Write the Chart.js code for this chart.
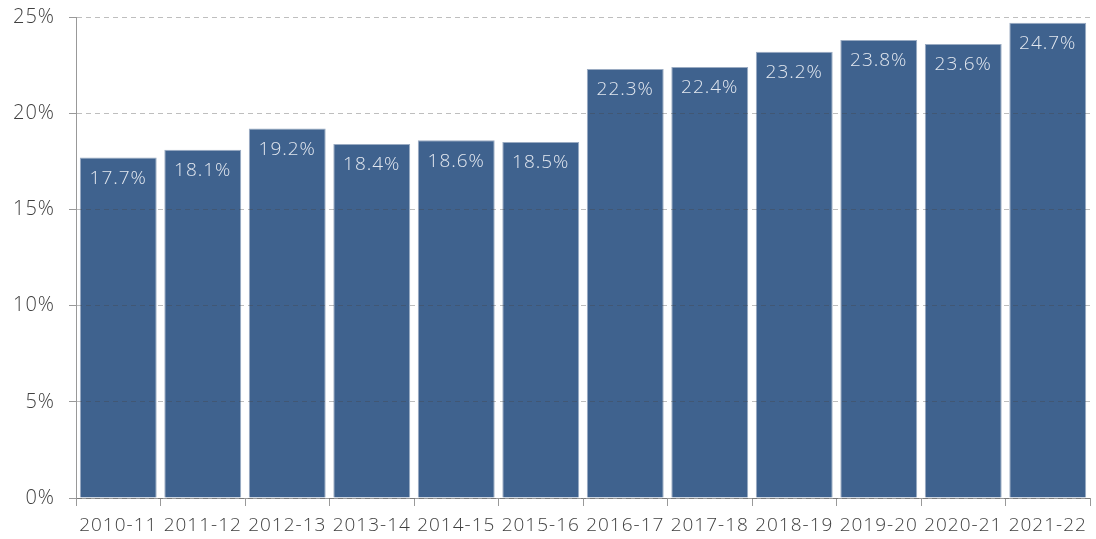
<!DOCTYPE html>
<html>
<head>
<meta charset="utf-8">
<script src="https://cdn.jsdelivr.net/npm/chart.js@4"></script>
<style>
  html, body { margin: 0; padding: 0; background: #fff; }
  #wrap { width: 1096px; height: 539px; }
</style>
</head>
<body>
<div id="wrap"><canvas id="myChart" width="1096" height="539"></canvas></div>
<script>
const years = ["2010-11", "2011-12", "2012-13", "2013-14", "2014-15", "2015-16",
  "2016-17", "2017-18", "2018-19", "2019-20", "2020-21", "2021-22"];
const shares = [17.7, 18.1, 19.2, 18.4, 18.6, 18.5, 22.3, 22.4, 23.2, 23.8, 23.6, 24.7];
const yTicks = [0, 5, 10, 15, 20, 25];

const fontFamily = "'Open Sans', sans-serif";

// writes the value inside the top of each bar
const barLabels = {
  id: "barLabels",
  afterDatasetsDraw(chart) {
    const { ctx } = chart;
    const meta = chart.getDatasetMeta(0);
    ctx.save();
    ctx.letterSpacing = "1px";
    ctx.font = `300 19px ${fontFamily}`;
    ctx.fillStyle = "#e2e7ef";
    ctx.textAlign = "center";
    ctx.textBaseline = "middle";
    meta.data.forEach((bar, i) => {
      ctx.fillText(shares[i].toFixed(1) + "%", bar.x, bar.y + 21);
    });
    ctx.restore();
  },
};

// wider lettering, closer to the original's geometric font
const spacing = {
  id: "spacing",
  beforeDraw(chart) {
    chart.ctx.letterSpacing = "1px";
  },
};

const ctx = document.getElementById("myChart").getContext("2d");
const chart = new Chart(ctx, {
  type: "bar",
  data: {
    labels: years,
    datasets: [
      {
        data: shares,
        backgroundColor: "#3f628e",
        borderColor: "#9aabc2",
        borderWidth: 1,
        barPercentage: 0.91,
        categoryPercentage: 1,
      },
    ],
  },
  options: {
    responsive: false,
    animation: false,
    layout: { padding: { top: 0, right: 6, left: 0, bottom: 0 } },
    plugins: { legend: { display: false }, tooltip: { enabled: false } },
    scales: {
      x: {
        z: 1,
        afterFit(axis) {
          axis.height = 41;
        },
        grid: {
          z: 1,
          drawOnChartArea: false,
          drawTicks: true,
          tickLength: 8,
          color: "#999",
        },
        border: { z: 1, color: "#999", width: 1 },
        ticks: {
          color: "#404040",
          font: { family: fontFamily, size: 19, weight: 300 },
          padding: 8,
          maxRotation: 0,
          autoSkip: false,
        },
      },
      y: {
        z: 1,
        min: 0,
        max: 25,
        afterBuildTicks(axis) {
          axis.ticks = yTicks.map((v) => ({ value: v }));
        },
        afterFit(axis) {
          axis.width = 76;
          axis.paddingTop = 17;
        },
        grid: {
          z: 1,
          color: "rgba(70,70,70,0.35)",
          tickColor: "#999",
          tickLength: 7,
          lineWidth: 1,
          tickBorderDash: [],
        },
        border: { z: 1, color: "#999", width: 1, dash: [5, 4] },
        ticks: {
          color: "#404040",
          font: { family: fontFamily, size: 20, weight: 300 },
          padding: 14,
          callback: (v) => v + "%",
        },
      },
    },
  },
  plugins: [spacing, barLabels],
});
</script>
</body>
</html>
